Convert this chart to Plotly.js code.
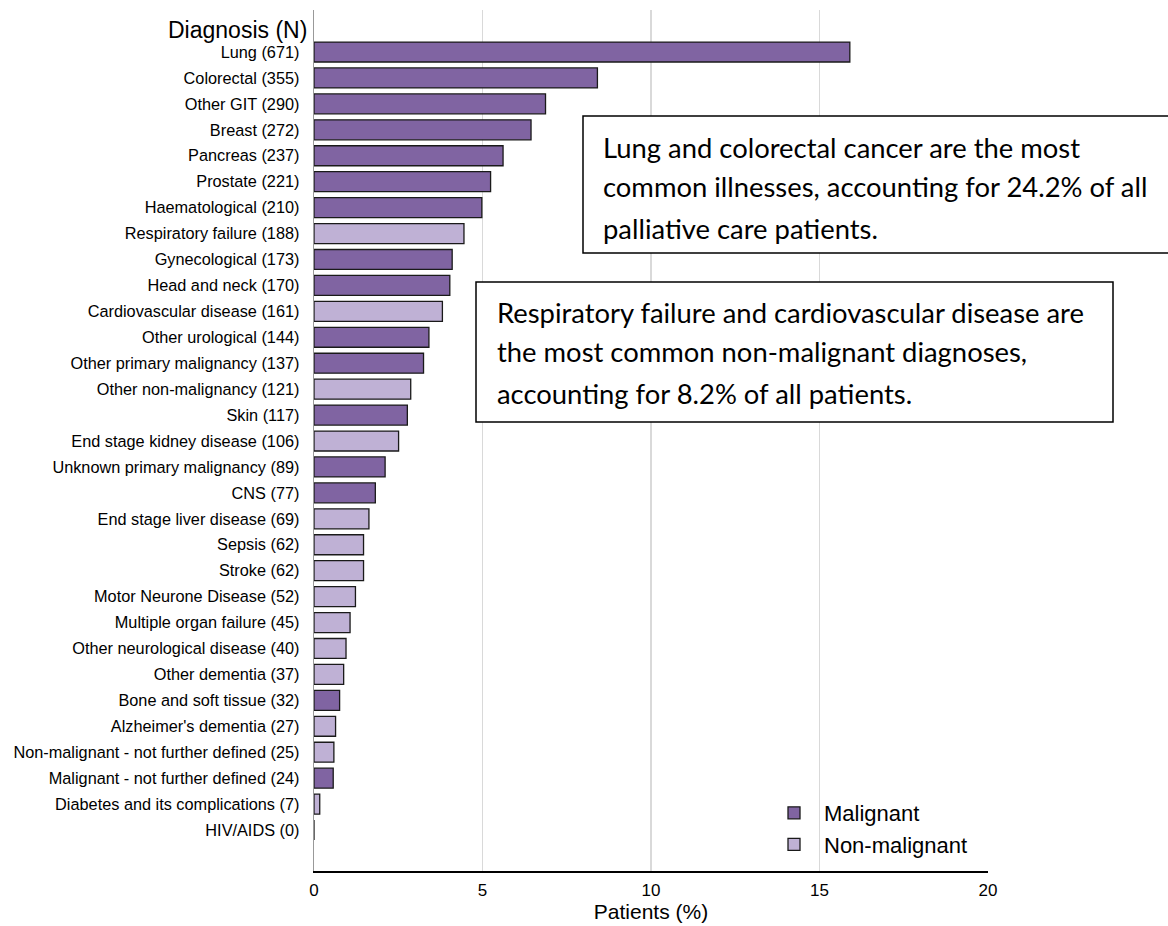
<!DOCTYPE html>
<html>
<head>
<meta charset="utf-8">
<script src="https://cdn.plot.ly/plotly-3.0.1.min.js"></script>
<style>html,body{margin:0;padding:0;background:#fff;}#chart{width:1168px;height:926px;}</style>
</head>
<body>
<div id="chart"></div>
<script>
const categories = [
  "Lung (671)", "Colorectal (355)", "Other GIT (290)", "Breast (272)", "Pancreas (237)",
  "Prostate (221)", "Haematological (210)", "Respiratory failure (188)", "Gynecological (173)",
  "Head and neck (170)", "Cardiovascular disease (161)", "Other urological (144)",
  "Other primary malignancy (137)", "Other non-malignancy (121)", "Skin (117)",
  "End stage kidney disease (106)", "Unknown primary malignancy (89)", "CNS (77)",
  "End stage liver disease (69)", "Sepsis (62)", "Stroke (62)", "Motor Neurone Disease (52)",
  "Multiple organ failure (45)", "Other neurological disease (40)", "Other dementia (37)",
  "Bone and soft tissue (32)", "Alzheimer's dementia (27)", "Non-malignant - not further defined (25)",
  "Malignant - not further defined (24)", "Diabetes and its complications (7)", "HIV/AIDS (0)"
];
const patientsPct = [
  15.9, 8.41, 6.87, 6.44, 5.61, 5.24, 4.98, 4.45, 4.10, 4.03, 3.81, 3.41, 3.25, 2.87, 2.77,
  2.51, 2.11, 1.82, 1.63, 1.47, 1.47, 1.23, 1.07, 0.95, 0.88, 0.76, 0.64, 0.59, 0.57, 0.17, 0.0
];
const groupType = [
  "M","M","M","M","M","M","M","N","M","M","N","M","M","N","M",
  "N","M","M","N","N","N","N","N","N","N","M","N","N","M","N","N"
];
const groupNames = {M: "Malignant", N: "Non-malignant"};
const groupColors = {M: "#8064a2", N: "#bfb1d5"};
const xTicks = [0, 5, 10, 15, 20];
const note1 = ["Lung and colorectal cancer are the most",
               "common illnesses, accounting for 24.2% of all",
               "palliative care patients."];
const note2 = ["Respiratory failure and cardiovascular disease are",
               "the most common non-malignant diagnoses,",
               "accounting for 8.2% of all patients."];

const FONT = "Liberation Sans, Arial, sans-serif";
const NOTEFONT = "Lato, Carlito, Calibri, sans-serif";

const traces = ["M", "N"].map(function (g) {
  const xs = [], ys = [];
  categories.forEach(function (c, i) {
    if (groupType[i] === g) { xs.push(patientsPct[i]); ys.push(c); }
  });
  return {
    type: "bar", orientation: "h", name: groupNames[g], x: xs, y: ys,
    marker: {color: groupColors[g], line: {color: "#1a1a1a", width: 1.3}},
    hoverinfo: "x+y"
  };
});

// plot area in pixels: x 314..988, y 10..871
const L = 314, R = 988, T = 10, B = 871;
function px(x) { return (x - L) / (R - L); }
function py(y) { return (B - y) / (B - T); }

const shapes = [
  {type: "rect", xref: "paper", yref: "paper", x0: px(583), x1: px(1175), y0: py(253), y1: py(116),
   fillcolor: "#ffffff", line: {color: "#000000", width: 1.5}, layer: "above"},
  {type: "rect", xref: "paper", yref: "paper", x0: px(476), x1: px(1113), y0: py(422), y1: py(282),
   fillcolor: "#ffffff", line: {color: "#000000", width: 1.5}, layer: "above"}
];

const annotations = [
  {xref: "paper", yref: "paper", x: px(309), y: py(30), xanchor: "right", yanchor: "middle",
   text: "Diagnosis (N)", showarrow: false, font: {family: FONT, size: 23, color: "#000"}}
];
const n1y = [147, 187, 228], n2y = [312, 352, 393];
note1.forEach(function (t, i) {
  annotations.push({xref: "paper", yref: "paper", x: px(601), y: py(n1y[i]), xanchor: "left", yanchor: "middle",
    text: t, showarrow: false, font: {family: NOTEFONT, size: 27.4, color: "#000"}});
});
note2.forEach(function (t, i) {
  annotations.push({xref: "paper", yref: "paper", x: px(495), y: py(n2y[i]), xanchor: "left", yanchor: "middle",
    text: t, showarrow: false, font: {family: NOTEFONT, size: 27.4, color: "#000"}});
});

const layout = {
  width: 1168, height: 926,
  margin: {l: L, r: 1168 - R, t: T, b: 926 - B, pad: 0},
  paper_bgcolor: "#ffffff", plot_bgcolor: "#ffffff",
  barmode: "overlay", bargap: 0.23,
  showlegend: true,
  legend: {x: px(764), xanchor: "left", y: py(866), yanchor: "bottom", itemwidth: 50,
           font: {family: FONT, size: 22, color: "#000"}, bgcolor: "rgba(0,0,0,0)",
           traceorder: "normal"},
  xaxis: {range: [0, 20], tickvals: xTicks, ticktext: xTicks.map(String), showgrid: true,
          gridcolor: "#d9d9d9", gridwidth: 1.3, zeroline: false, showline: true, linecolor: "#000",
          linewidth: 1.5, ticks: "", ticklabelstandoff: 3, tickfont: {family: FONT, size: 17, color: "#000"},
          title: {text: "Patients (%)", font: {family: FONT, size: 21, color: "#000"}, standoff: 5},
          fixedrange: true},
  yaxis: {type: "category", categoryorder: "array", categoryarray: categories,
          range: [31.58, -1.62], showgrid: false, zeroline: false, showline: true,
          linecolor: "#999999", linewidth: 1.3, ticks: "", ticklabelstandoff: 10,
          tickfont: {family: FONT, size: 16.3, color: "#000"}, fixedrange: true},
  shapes: shapes,
  annotations: annotations
};

Plotly.newPlot("chart", traces, layout, {displayModeBar: false, staticPlot: true});
</script>
</body>
</html>
